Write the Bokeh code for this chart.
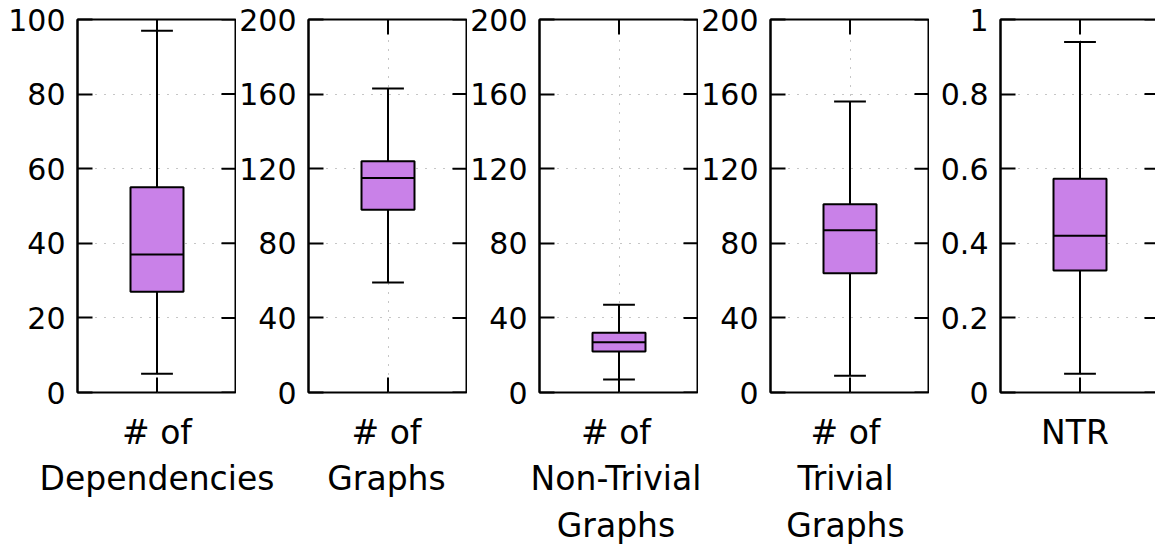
from bokeh.plotting import figure
from bokeh.layouts import row, column
from bokeh.models import Range1d, FixedTicker
from bokeh.embed import file_html
from bokeh.resources import INLINE

# Box-plot summaries, one panel per metric
categories = ["# of\nDependencies", "# of\nGraphs", "# of\nNon-Trivial\nGraphs",
              "# of\nTrivial\nGraphs", "NTR"]
whisker_low = [5, 59, 7, 9, 0.05]
quartile_1 = [27, 98, 22, 64, 0.327]
medians = [37, 115, 27, 87, 0.42]
quartile_3 = [55, 124, 32, 101, 0.573]
whisker_high = [97, 163, 47, 156, 0.94]
y_limits = [100, 200, 200, 200, 1]
y_ticks = [
    [0, 20, 40, 60, 80, 100],
    [0, 40, 80, 120, 160, 200],
    [0, 40, 80, 120, 160, 200],
    [0, 40, 80, 120, 160, 200],
    [0, 0.2, 0.4, 0.6, 0.8, 1],
]
y_tick_labels = [
    ["0", "20", "40", "60", "80", "100"],
    ["0", "40", "80", "120", "160", "200"],
    ["0", "40", "80", "120", "160", "200"],
    ["0", "40", "80", "120", "160", "200"],
    ["0", "0.2", "0.4", "0.6", "0.8", "1"],
]

FONT = "DejaVu Sans"
BOX_COLOR = "#c981e8"
X0, X1 = 0.5, 1.5   # x extent of each panel
XC = 1.0            # box position
BOX_W = 1 / 3
CAP_W = 0.2
TICK_LEN = 15       # px, ticks point into the frame
FRAME_W, FRAME_H = 159, 373
TOP, BOTTOM = 19, 18
left_borders = [77, 70, 71, 70, 71]
CANVAS_W = 1155
PANEL_STEP = 229.5
FIRST_CENTER = 156.5

figs = []
for i in range(len(categories)):
    ymax = y_limits[i]
    p = figure(frame_width=FRAME_W, frame_height=FRAME_H,
               x_range=Range1d(X0, X1), y_range=Range1d(0, ymax),
               output_backend="svg", toolbar_location=None,
               min_border_left=left_borders[i],
               min_border_right=1 if i == len(categories) - 1 else 0,
               min_border_top=TOP, min_border_bottom=BOTTOM,
               background_fill_color="white", border_fill_color="white")
    p.outline_line_color = "black"
    p.outline_line_width = 2
    p.xaxis.visible = False

    ticks = y_ticks[i]
    ya = p.yaxis[0]
    ya.ticker = FixedTicker(ticks=ticks)
    ya.major_label_overrides = {t: s for t, s in zip(ticks, y_tick_labels[i])}
    ya.major_label_text_font = FONT
    ya.major_label_text_font_size = "30px"
    ya.major_label_text_color = "black"
    ya.major_label_standoff = 12
    ya.major_tick_in = TICK_LEN
    ya.major_tick_out = 0
    ya.minor_tick_line_color = None
    ya.major_tick_line_color = "black"
    ya.major_tick_line_width = 2
    ya.axis_line_color = "black"
    ya.axis_line_width = 2

    # dotted grid
    p.ygrid.ticker = FixedTicker(ticks=ticks)
    p.xgrid.ticker = FixedTicker(ticks=[XC])
    for g in (p.xgrid[0], p.ygrid[0]):
        g.grid_line_color = "#8c8c8c"
        g.grid_line_width = 1
        g.grid_line_dash = "1 8"

    # mirrored inward ticks on the right edge, and the x tick at top and bottom
    dx = TICK_LEN / FRAME_W * (X1 - X0)
    dy = TICK_LEN / FRAME_H * ymax
    p.segment(x0=[X1 - dx] * len(ticks), x1=[X1] * len(ticks), y0=ticks, y1=ticks,
              line_color="black", line_width=2)
    p.segment(x0=[XC, XC], x1=[XC, XC], y0=[0, ymax - dy], y1=[dy, ymax],
              line_color="black", line_width=2)

    # whiskers and caps
    p.segment(x0=[XC, XC], x1=[XC, XC], y0=[quartile_3[i], whisker_low[i]],
              y1=[whisker_high[i], quartile_1[i]], line_color="black", line_width=2)
    p.segment(x0=[XC - CAP_W / 2] * 2, x1=[XC + CAP_W / 2] * 2,
              y0=[whisker_low[i], whisker_high[i]], y1=[whisker_low[i], whisker_high[i]],
              line_color="black", line_width=2)
    # box and median
    p.vbar(x=[XC], width=BOX_W, bottom=[quartile_1[i]], top=[quartile_3[i]],
           fill_color=BOX_COLOR, line_color="black", line_width=2)
    p.segment(x0=[XC - BOX_W / 2], x1=[XC + BOX_W / 2], y0=[medians[i]], y1=[medians[i]],
              line_color="black", line_width=2)
    figs.append(p)

# Category labels under the panels, on one shared axis spanning the full width
positions = list(range(1, len(categories) + 1))
lx0 = 1 - FIRST_CENTER / PANEL_STEP
lx1 = 1 + (CANVAS_W - FIRST_CENTER) / PANEL_STEP
lab = figure(frame_width=CANVAS_W, frame_height=1,
             x_range=Range1d(lx0, lx1), y_range=Range1d(0, 1),
             output_backend="svg", toolbar_location=None, y_axis_location=None,
             min_border_left=0, min_border_right=0, min_border_top=0, min_border_bottom=100,
             background_fill_color="white", border_fill_color="white")
lab.outline_line_color = None
lab.xgrid.visible = False
lab.ygrid.visible = False
la = lab.xaxis[0]
la.ticker = FixedTicker(ticks=positions)
la.major_label_overrides = {k: s for k, s in zip(positions, categories)}
la.major_label_text_font = FONT
la.major_label_text_font_size = "33px"
la.major_label_text_color = "black"
la.major_label_text_line_height = 1.2
la.major_label_standoff = -5
la.axis_line_color = None
la.major_tick_line_color = None
la.minor_tick_line_color = None

layout = column(row(*figs, spacing=0), lab, spacing=0)
open("out.html", "w").write(file_html(layout, INLINE))
